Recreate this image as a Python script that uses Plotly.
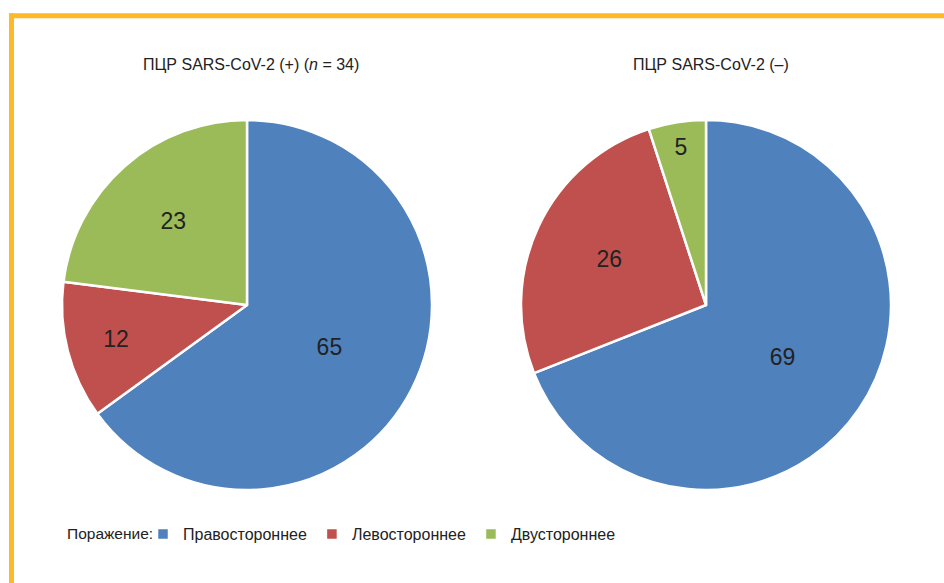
import plotly.graph_objects as go

categories = ["Правостороннее", "Левостороннее", "Двустороннее"]
values_pos = [65, 12, 23]
values_neg = [69, 26, 5]
colors = ["#4F81BD", "#C0504D", "#9BBB59"]
title_pos = "ПЦР SARS-CoV-2 (+) (<i>n</i> = 34)"
title_neg = "ПЦР SARS-CoV-2 (–)"
legend_title = "Поражение:"

W, H = 944, 583
FONT = "Liberation Sans, Arial, sans-serif"

def px(x):
    return x / W

def py(y):
    return (H - y) / H

def dom(x0, x1, ytop, ybot):
    return dict(x=[px(x0), px(x1)], y=[py(ybot), py(ytop)])

fig = go.Figure()
for i, (vals, d) in enumerate([(values_pos, dom(62, 432, 120, 490)),
                               (values_neg, dom(521, 891, 120, 490))]):
    fig.add_trace(go.Pie(
        labels=categories, values=vals, domain=d,
        sort=False, direction="clockwise", rotation=0,
        marker=dict(colors=colors, line=dict(color="white", width=2.5)),
        textinfo="value", textposition="inside",
        insidetextorientation="horizontal",
        textfont=dict(size=23, color="#222222", family=FONT),
        showlegend=(i == 0), hoverinfo="label+value",
    ))

fig.update_layout(
    width=W, height=H,
    margin=dict(l=0, r=0, t=0, b=0),
    paper_bgcolor="white",
    font=dict(family=FONT, color="#222222"),
    legend=dict(
        orientation="h", x=px(143), y=py(534), xanchor="left", yanchor="middle",
        font=dict(size=16, family=FONT), itemwidth=30,
        traceorder="normal",
    ),
    annotations=[
        dict(text=legend_title, x=px(65), y=py(533), xref="paper", yref="paper",
             xanchor="left", yanchor="middle", showarrow=False,
             font=dict(size=15.5, family=FONT, color="#222222")),
        dict(text=title_pos, x=px(251), y=py(65), xref="paper", yref="paper",
             xanchor="center", yanchor="middle", showarrow=False,
             font=dict(size=16, family=FONT, color="#222222")),
        dict(text=title_neg, x=px(711), y=py(65), xref="paper", yref="paper",
             xanchor="center", yanchor="middle", showarrow=False,
             font=dict(size=16, family=FONT, color="#222222")),
    ],
    shapes=[
        dict(type="line", xref="paper", yref="paper", x0=px(9), x1=1.02,
             y0=py(15.8), y1=py(15.8),
             line=dict(color="#FDB92A", width=5)),
        dict(type="line", xref="paper", yref="paper", x0=px(11.5), x1=px(11.5),
             y0=py(13.3), y1=-0.02,
             line=dict(color="#FDB92A", width=5)),
    ],
)

fig.write_html("out.html", config={"displayModeBar": False},
               post_script="document.body.style.margin='0px';")
